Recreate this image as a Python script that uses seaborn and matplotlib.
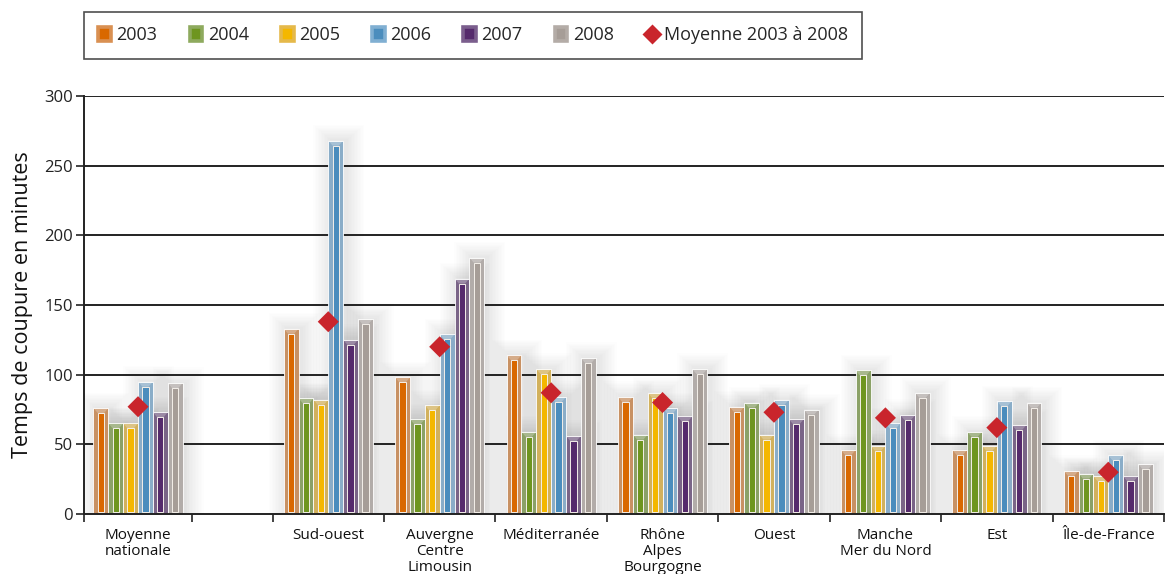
import numpy as np
import pandas as pd
import matplotlib
matplotlib.use("Agg")
import matplotlib.pyplot as plt
import matplotlib.transforms as mtransforms
from matplotlib.patches import Rectangle, Polygon, Patch
from matplotlib.lines import Line2D
import seaborn as sns

# ---- data -------------------------------------------------------------
regions = ["Moyenne\nnationale", "Sud-ouest", "Auvergne\nCentre\nLimousin",
           "Méditerranée", "Rhône\nAlpes\nBourgogne", "Ouest",
           "Manche\nMer du Nord", "Est", "Île-de-France"]
years = ["2003", "2004", "2005", "2006", "2007", "2008"]
v2003 = [76, 133, 98, 114, 84, 77, 46, 46, 31]
v2004 = [65, 83, 68, 59, 57, 80, 103, 59, 29]
v2005 = [65, 82, 78, 104, 87, 57, 49, 49, 27]
v2006 = [95, 268, 129, 84, 76, 82, 65, 81, 42]
v2007 = [73, 125, 169, 56, 70, 68, 71, 64, 27]
v2008 = [94, 140, 184, 112, 104, 75, 87, 80, 36]
moyenne = [77, 138, 120, 87, 80, 73, 69, 62, 30]
yticks = [0, 50, 100, 150, 200, 250, 300]

# slot layout: national average, an empty gap, then one slot per region
centers = [0.0] + [1.707 + i for i in range(8)]
bounds = [-0.485, 0.485] + [1.207 + i for i in range(9)]

frame_cols = ["#d99052", "#8eaa5e", "#e5b94a", "#80afd2", "#7b5e8d", "#b4aca7"]
core_cols = ["#d96800", "#6e951f", "#f4b700", "#4b8dbd", "#552a6c", "#a69d97"]

series = [v2003, v2004, v2005, v2006, v2007, v2008]
df = pd.DataFrame({
    "x": np.tile(centers, len(years)),
    "annee": np.repeat(years, len(regions)),
    "minutes": np.concatenate(series),
})
df_moy = pd.DataFrame({"x": centers, "minutes": moyenne})

# ---- figure -----------------------------------------------------------
sns.set_theme(style="white")
plt.rcParams["font.family"] = ["Open Sans", "DejaVu Sans"]

W, H = 1165, 574
fig = plt.figure(figsize=(W / 100, H / 100), dpi=100)
ax = fig.add_axes([84 / W, 60 / H, 1080 / W, 418 / H])

ax.set_xlim(bounds[0], bounds[-1])
ax.set_ylim(0, 300)

sns.barplot(data=df, x="x", y="minutes", hue="annee", hue_order=years,
            palette=frame_cols, native_scale=True, dodge=True, width=0.8,
            errorbar=None, legend=False, ax=ax, zorder=3,
            edgecolor="#ffffff", linewidth=0.6)

# pixel sizes in data units
px_x = (bounds[-1] - bounds[0]) / 1080
px_y = 300 / 418

# bevelled look: soft shadow, inner darker stripe and light top cap
bars = list(ax.patches)
for i, p in enumerate(bars):
    k = i // len(regions)
    x0, w, h = p.get_x(), p.get_width(), p.get_height()
    if not np.isfinite(h) or h <= 0:
        continue
    for s in range(1, 13):
        ax.add_patch(Rectangle((x0 + 3 * px_x - s * 1.5 * px_x, 0),
                               w + 2 * s * 1.5 * px_x, h + s * 1.3 * px_y,
                               facecolor="#000000", alpha=0.006,
                               edgecolor="none", zorder=1))
    inset = 0.29 * w
    ax.add_patch(Rectangle((x0 + inset, 2 * px_y), w - 2 * inset,
                           h - 7 * px_y,
                           facecolor=core_cols[k], edgecolor="#f4efe9",
                           linewidth=0.7, zorder=4))
    cap = Polygon([(x0, h), (x0 + w, h), (x0 + w - inset, h - 5 * px_y),
                   (x0 + inset, h - 5 * px_y)], closed=True,
                  facecolor="white", alpha=0.25, edgecolor="none", zorder=4)
    ax.add_patch(cap)

sns.scatterplot(data=df_moy, x="x", y="minutes", marker="D", s=115,
                color="#c9252c", edgecolor="none", ax=ax, zorder=6,
                legend=False)

# grid, spines and ticks
ax.set_yticks(yticks)
ax.set_yticklabels([str(t) for t in yticks], fontsize=12, color="#222222")
for t in yticks[1:]:
    ax.axhline(t, color="#222222", linewidth=1.4, zorder=2)
ax.tick_params(axis="y", length=6, width=1.2, color="#222222", pad=2,
               left=True)
ax.set_xticks(bounds)
ax.set_xticklabels([])
ax.tick_params(axis="x", length=6, width=1.2, color="#222222", bottom=True,
               direction="out")
for side in ["top", "right"]:
    ax.spines[side].set_visible(False)
for side in ["left", "bottom"]:
    ax.spines[side].set_color("#222222")
    ax.spines[side].set_linewidth(1.4)
    ax.spines[side].set_zorder(5)

ax.set_xlabel("")
ax.set_ylabel("Temps de coupure en minutes", fontsize=15.5, color="#111111",
              labelpad=8)

trans = mtransforms.blended_transform_factory(ax.transData, ax.transAxes)
for c, lab in zip(centers, regions):
    ax.text(c, -14 / 418, lab, transform=trans, ha="center", va="top",
            fontsize=11, linespacing=1.08, color="#111111",
            multialignment="center")

# legend
handles = [Patch(facecolor=core_cols[i], edgecolor=frame_cols[i],
                 linewidth=2.6, label=y) for i, y in enumerate(years)]
handles.append(Line2D([], [], marker="D", linestyle="none", markersize=10,
                      color="#c9252c", markeredgecolor="none",
                      label="Moyenne 2003 à 2008"))
leg = fig.legend(handles=handles, ncol=7, loc="upper left",
                 bbox_to_anchor=(84 / W, 1 - 12 / H), frameon=True,
                 fancybox=False, fontsize=13, handlelength=0.7,
                 handleheight=0.85, handletextpad=0.3, columnspacing=1.78,
                 borderpad=0.8, borderaxespad=0)
leg.get_frame().set_edgecolor("#222222")
leg.get_frame().set_linewidth(1.2)

fig.savefig("out.png", dpi=100, facecolor="white")
